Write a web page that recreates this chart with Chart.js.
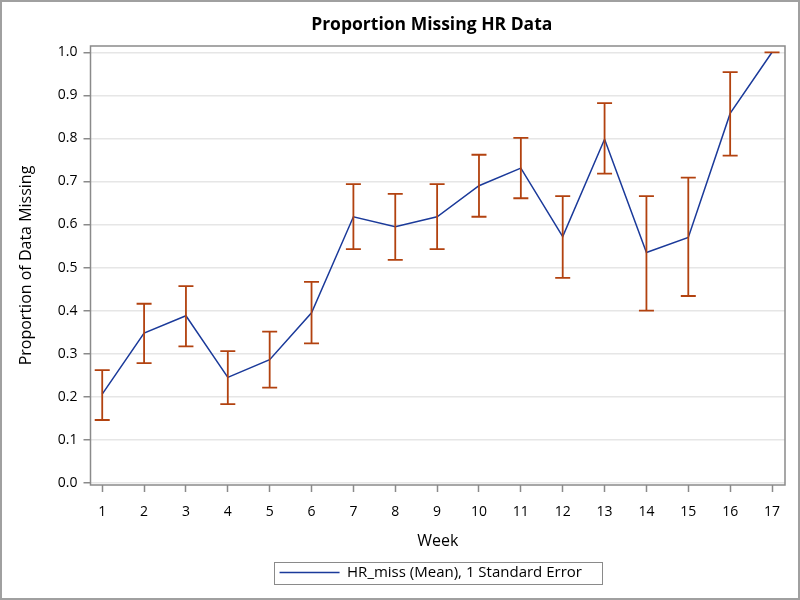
<!DOCTYPE html>
<html>
<head>
<meta charset="utf-8">
<script src="https://cdn.jsdelivr.net/npm/chart.js@4/dist/chart.umd.min.js"></script>
<style>
  html, body { margin:0; padding:0; background:#fff; }
  #wrap { width:800px; height:600px; }
</style>
</head>
<body>
<div id="wrap"><canvas id="c" width="800" height="600"></canvas></div>
<script>
// --- data ---
const weeks = [1,2,3,4,5,6,7,8,9,10,11,12,13,14,15,16,17];
const meanMissing = [0.206,0.348,0.388,0.245,0.286,0.395,0.618,0.595,0.618,0.690,0.731,0.572,0.798,0.535,0.570,0.858,1.0];
const upperSE = [0.262,0.416,0.457,0.306,0.351,0.467,0.694,0.671,0.694,0.762,0.801,0.666,0.882,0.666,0.709,0.954,1.0];
const lowerSE = [0.146,0.278,0.317,0.183,0.221,0.324,0.543,0.518,0.543,0.618,0.661,0.476,0.718,0.400,0.434,0.760,1.0];
const yTicks = [0,0.1,0.2,0.3,0.4,0.5,0.6,0.7,0.8,0.9,1.0];

const FONT = '"Open Sans", "Noto Sans", sans-serif';
const BLUE = '#1b3a9a';
const RUST = '#b2420f';

// error bars with caps, drawn through the scales
const errorBars = {
  id: 'errorBars',
  afterDatasetsDraw(chart) {
    const {ctx, scales:{x, y}} = chart;
    ctx.save();
    ctx.strokeStyle = RUST;
    ctx.lineWidth = 1.8;
    weeks.forEach((w, i) => {
      const px = x.getPixelForValue(w);
      const top = y.getPixelForValue(upperSE[i]);
      const bot = y.getPixelForValue(lowerSE[i]);
      ctx.beginPath();
      ctx.moveTo(px, top); ctx.lineTo(px, bot);
      ctx.moveTo(px - 7.5, top); ctx.lineTo(px + 7.5, top);
      ctx.moveTo(px - 7.5, bot); ctx.lineTo(px + 7.5, bot);
      ctx.stroke();
    });
    ctx.restore();
  }
};

// centre title and legend on the plot area rather than the canvas
const centreOnPlot = {
  id: 'centreOnPlot',
  afterLayout(chart) {
    const a = chart.chartArea;
    const lg = chart.legend;
    const dx = (a.left + a.right) / 2 - (lg.left + lg.right) / 2 - 7;
    lg.left += dx; lg.right += dx;
    lg.legendHitBoxes.forEach(h => { h.left += dx; });
    const t = chart.titleBlock;
    t.left = a.left - 12; t.right = a.right;
  }
};

// frame round plot area, outer border, legend box
const frames = {
  id: 'frames',
  beforeDraw(chart) {
    const ctx = chart.ctx;
    ctx.save();
    ctx.fillStyle = '#fff';
    ctx.fillRect(0, 0, chart.width, chart.height);
    ctx.restore();
  },
  afterDraw(chart) {
    const {ctx, chartArea:a} = chart;
    ctx.save();
    ctx.strokeStyle = '#8a8a8a';
    ctx.lineWidth = 1.5;
    ctx.strokeRect(a.left, a.top, a.right - a.left, a.bottom - a.top);
    ctx.strokeStyle = '#a0a0a0';
    ctx.lineWidth = 2;
    ctx.strokeRect(1, 1, chart.width - 2, chart.height - 2);
    const hb = chart.legend.legendHitBoxes[0];
    if (hb) {
      ctx.strokeStyle = '#8a8a8a';
      ctx.lineWidth = 1;
      ctx.strokeRect(Math.round(hb.left - 6) + 0.5, Math.round(hb.top - 3) + 0.5, Math.round(hb.width + 26), Math.round(hb.height + 7));
    }
    ctx.restore();
  }
};

new Chart(document.getElementById('c'), {
  type: 'line',
  data: {
    datasets: [{
      label: 'HR_miss (Mean), 1 Standard Error',
      data: weeks.map((w, i) => ({x: w, y: meanMissing[i]})),
      borderColor: BLUE,
      backgroundColor: BLUE,
      borderWidth: 1.5,
      pointRadius: 0,
      tension: 0
    }]
  },
  options: {
    responsive: false,
    animation: false,
    layout: { padding: { left: 0, right: 15, top: 0, bottom: 10 } },
    plugins: {
      title: {
        display: true,
        text: 'Proportion Missing HR Data',
        color: '#000',
        font: { family: FONT, size: 17.5, weight: 'bold' },
        padding: { top: 15, bottom: 10 }
      },
      legend: {
        position: 'bottom',
        labels: {
          color: '#000',
          font: { family: FONT, size: 15 },
          usePointStyle: true,
          pointStyle: 'line',
          pointStyleWidth: 60,
          boxHeight: 15,
          padding: 8
        }
      },
      tooltip: { enabled: false }
    },
    scales: {
      x: {
        type: 'linear',
        min: 0.72,
        max: 17.31,
        afterBuildTicks: s => { s.ticks = weeks.map(v => ({value: v})); },
        afterFit: s => { s.height = 72; },
        ticks: { color: '#000', font: { family: FONT, size: 14 }, padding: 12, maxRotation: 0 },
        grid: { drawOnChartArea: false, drawTicks: true, tickLength: 7, tickColor: '#8a8a8a', tickWidth: 1.5 },
        border: { display: false },
        title: { display: true, text: 'Week', color: '#000', font: { family: FONT, size: 16 }, padding: { top: 4, bottom: 6 } }
      },
      y: {
        min: -0.005,
        max: 1.0146,
        afterBuildTicks: s => { s.ticks = yTicks.map(v => ({value: v})); },
        afterFit: s => { s.width = 90.5; },
        ticks: { color: '#000', font: { family: FONT, size: 14 }, padding: 6, callback: v => v.toFixed(1) },
        grid: { color: '#e6e6e6', lineWidth: 1.5, drawTicks: true, tickLength: 7, tickColor: '#8a8a8a', tickWidth: 1.5 },
        border: { display: false },
        title: { display: true, text: 'Proportion of Data Missing', color: '#000', font: { family: FONT, size: 16 }, padding: { top: 17, bottom: 0 } }
      }
    }
  },
  plugins: [centreOnPlot, frames, errorBars]
});
</script>
</body>
</html>
